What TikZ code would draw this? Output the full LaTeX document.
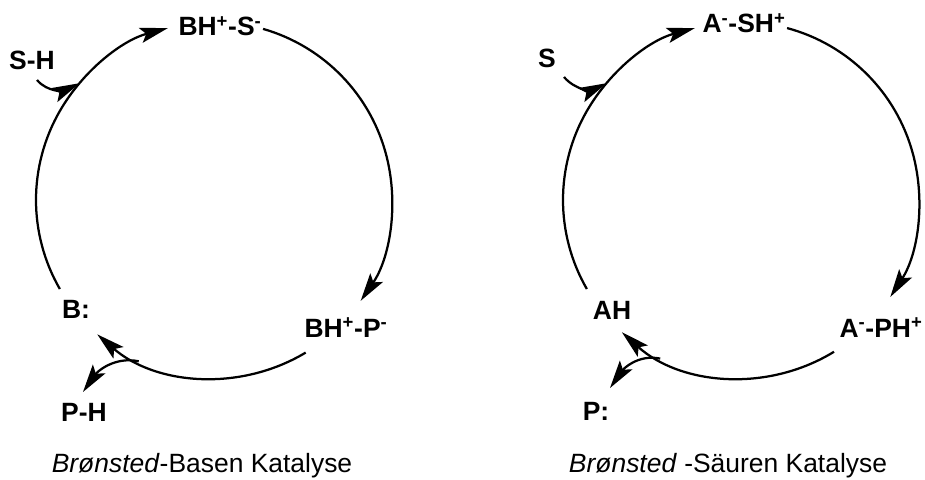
\documentclass[tikz,border=0pt]{standalone}
\usepackage{fontspec}
\setmainfont{Liberation Sans}
\usetikzlibrary{arrows.meta,calc}

\begin{document}
\begin{tikzpicture}[x=0.025cm,y=0.025cm,line width=1.6pt,
  >={Stealth[length=7mm,width=3.8mm,inset=1.4mm]},
  spec/.style={font=\fontsize{18.8}{22}\selectfont\bfseries,anchor=base,inner sep=0pt},
  caption/.style={font=\fontsize{18.8}{22}\selectfont,anchor=base,inner sep=0pt}]
\useasboundingbox (0,0) rectangle (925,-479);
% Basen-Katalyse
\coordinate (Lc) at (214,-200);
\node[spec] (SH) at (32,-70) {S-H};
\node[spec] (BHS) at (220,-36) {BH\textsuperscript{+}-S\textsuperscript{-}};
\node[spec] (B) at (76,-318) {B:};
\node[spec] (BHP) at (346,-337) {BH\textsuperscript{+}-P\textsuperscript{-}};
\node[spec] (PH) at (84,-421) {P-H};
\node[caption] (capL) at (202,-472) {\textit{Brønsted}-Basen Katalyse};
\coordinate (SHs) at (37,-80);
\coordinate (PHt) at (83,-392);
\draw[->] ($(Lc)+(210:178)$) arc[start angle=210,end angle=105,radius=178];
\draw[->] ($(Lc)+(74:178)$) arc[start angle=74,end angle=-34.5,radius=178];
\draw[->] ($(Lc)+(-59:178)$) arc[start angle=-59,end angle=-131,radius=178];
\draw[->] ($(Lc)+(-115:178)$) to[out=168,in=55] (PHt);
\draw[->] (SHs) to[out=-50,in=205] ($(Lc)+(139:178)$);
% Saeuren-Katalyse
\coordinate (Rc) at (741,-200);
\node[spec] (S) at (547,-68) {S};
\node[spec] (ASH) at (744,-33) {A\textsuperscript{-}-SH\textsuperscript{+}};
\node[spec] (AH) at (612,-319) {AH};
\node[spec] (APH) at (881,-337) {A\textsuperscript{-}-PH\textsuperscript{+}};
\node[spec] (P) at (596,-420) {P:};
\node[caption] (capR) at (728,-472) {\textit{Brønsted} -Säuren Katalyse};
\coordinate (Ss) at (564,-77);
\coordinate (Pt) at (610,-388);
\draw[->] ($(Rc)+(210:178)$) arc[start angle=210,end angle=105,radius=178];
\draw[->] ($(Rc)+(75:178)$) arc[start angle=75,end angle=-33,radius=178];
\draw[->] ($(Rc)+(-58.5:178)$) arc[start angle=-58.5,end angle=-132,radius=178];
\draw[->] ($(Rc)+(-117:178)$) to[out=168,in=55] (Pt);
\draw[->] (Ss) to[out=-50,in=205] ($(Rc)+(139:178)$);
\end{tikzpicture}
\end{document}
